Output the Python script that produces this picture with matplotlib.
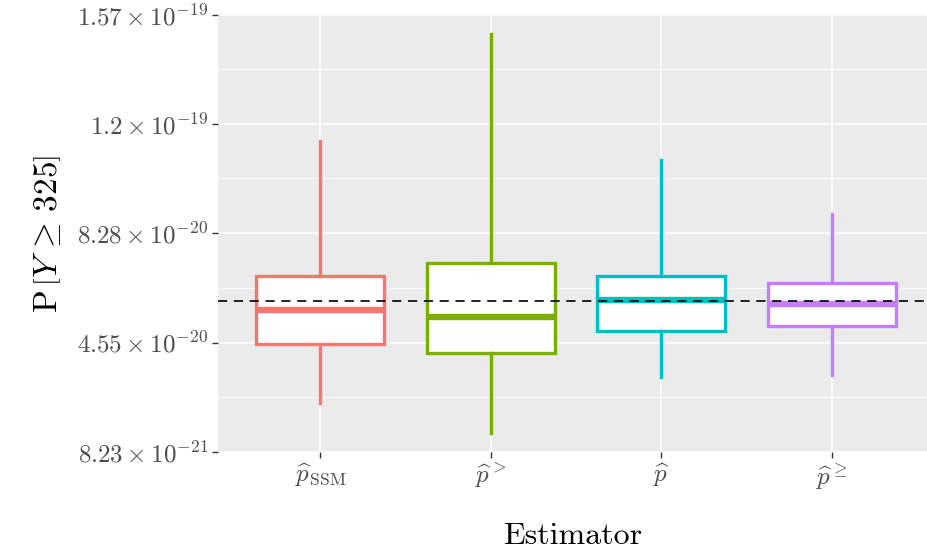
import matplotlib
matplotlib.use("Agg")
import matplotlib.pyplot as plt
from matplotlib.ticker import FixedLocator

plt.rcParams["mathtext.fontset"] = "cm"
plt.rcParams["font.family"] = "serif"
plt.rcParams["font.serif"] = ["cmr10", "DejaVu Serif"]
plt.rcParams["axes.formatter.use_mathtext"] = True

# Estimators and their boxplot summaries
estimators = [r"$\widehat{p}_{\mathrm{SSM}}$", r"$\widehat{p}^{>}$",
              r"$\widehat{p}$", r"$\widehat{p}^{\geq}$"]
colors = ["#F8766D", "#7CAE00", "#00BFC4", "#C77CFF"]
whisker_low = [2.49e-20, 1.47e-20, 3.38e-20, 3.44e-20]
q1 = [4.50e-20, 4.19e-20, 4.94e-20, 5.11e-20]
median = [5.66e-20, 5.42e-20, 6.00e-20, 5.86e-20]
q3 = [6.81e-20, 7.26e-20, 6.81e-20, 6.58e-20]
whisker_high = [1.141e-19, 1.505e-19, 1.076e-19, 8.93e-20]
true_value = 5.96e-20

y_ticks = [8.23e-21, 4.55e-20, 8.28e-20, 1.20e-19, 1.57e-19]
y_tick_labels = [r"$8.23\times10^{-21}$", r"$4.55\times10^{-20}$",
                 r"$8.28\times10^{-20}$", r"$1.2\times10^{-19}$",
                 r"$1.57\times10^{-19}$"]

fig = plt.figure(figsize=(9.28, 5.52), dpi=100)
ax = fig.add_axes([218 / 928, 100 / 552, 1 - 218 / 928, 437 / 552])
ax.set_facecolor("#EBEBEB")
for s in ax.spines.values():
    s.set_visible(False)

positions = list(range(1, len(estimators) + 1))
stats = []
for i in range(len(estimators)):
    stats.append(dict(whislo=whisker_low[i], q1=q1[i], med=median[i],
                      q3=q3[i], whishi=whisker_high[i], fliers=[]))

for i, st in enumerate(stats):
    c = colors[i]
    ax.bxp([st], positions=[positions[i]], widths=0.75, showfliers=False,
           showcaps=False, patch_artist=True,
           boxprops=dict(facecolor="white", edgecolor=c, linewidth=2.4),
           whiskerprops=dict(color=c, linewidth=2.4),
           medianprops=dict(color=c, linewidth=4.6, solid_capstyle="butt"),
           zorder=3)

ax.axhline(true_value, color="black", linewidth=1.2, linestyle=(0, (5.5, 4)),
           zorder=5)

ax.set_xlim(0.4, 4.565)
ax.set_ylim(y_ticks[0], y_ticks[-1])
ax.set_xticks(positions)
ax.set_xticklabels(estimators)
ax.set_yticks(y_ticks)
ax.set_yticklabels(y_tick_labels)
minor = [(a + b) / 2 for a, b in zip(y_ticks[:-1], y_ticks[1:])]
ax.yaxis.set_minor_locator(FixedLocator(minor))

ax.grid(True, which="major", color="white", linewidth=1.1, zorder=0)
ax.grid(True, which="minor", axis="y", color="white", linewidth=0.55, zorder=0)
ax.set_axisbelow(True)
ax.tick_params(axis="both", which="major", length=4, width=1.0,
               color="#333333", labelcolor="#4D4D4D", labelsize=18, pad=3)
ax.tick_params(axis="y", which="minor", length=0)

ax.set_xlabel("Estimator", fontsize=23, labelpad=22)
ax.set_ylabel(r"$\mathrm{P}\,\left[Y \,\geq\, 325\right]$", fontsize=24,
              labelpad=10)

fig.savefig("out.png", dpi=100)
